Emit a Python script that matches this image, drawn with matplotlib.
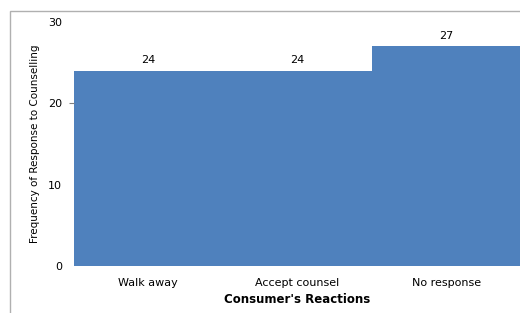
import matplotlib
matplotlib.use("Agg")
import matplotlib.pyplot as plt
from matplotlib.patches import Rectangle

categories = ["Walk away", "Accept counsel", "No response"]
values = [24, 24, 27]
yticks = [0, 10, 20, 30]

plt.rcParams['font.family'] = ['DejaVu Sans']

fig = plt.figure(figsize=(5.2, 3.13), dpi=100)
# outer chart border (left and top visible)
fig.patches.append(Rectangle((10/520, -0.1), 1.2, (313-11)/313 + 0.1,
                             transform=fig.transFigure, fill=False,
                             edgecolor='#b0b0b0', linewidth=1.0))

ax = fig.add_axes([73.5/520, (313-266)/313, (521-73.5)/520, (266-22)/313])
x = list(range(len(categories)))
ax.bar(x, values, width=1.0, color='#4F81BD', edgecolor='none')
ax.set_xlim(-0.5, len(categories) - 0.5)
ax.set_ylim(0, 30)
ax.set_yticks(yticks)
ax.set_yticklabels([str(t) for t in yticks], fontsize=8)
ax.set_xticks(x)
ax.set_xticklabels(categories, fontsize=8)
ax.tick_params(axis='x', length=0, pad=8.5)
ax.tick_params(axis='y', length=3.6, pad=4.5, color='#808080')
for t, v in zip(ax.yaxis.get_major_ticks(), yticks):
    if v != 20:
        t.tick1line.set_visible(False)
for s in ax.spines.values():
    s.set_visible(False)
for xi, v in zip(x, values):
    ax.text(xi, v + 0.7, str(v), ha='center', va='bottom', fontsize=8)
ax.set_xlabel("Consumer's Reactions", fontsize=8.5, fontweight='bold', labelpad=3.5)
ax.set_ylabel("Frequency of Response to Counselling", fontsize=7.5, labelpad=6)
fig.savefig("out.png", dpi=100)
